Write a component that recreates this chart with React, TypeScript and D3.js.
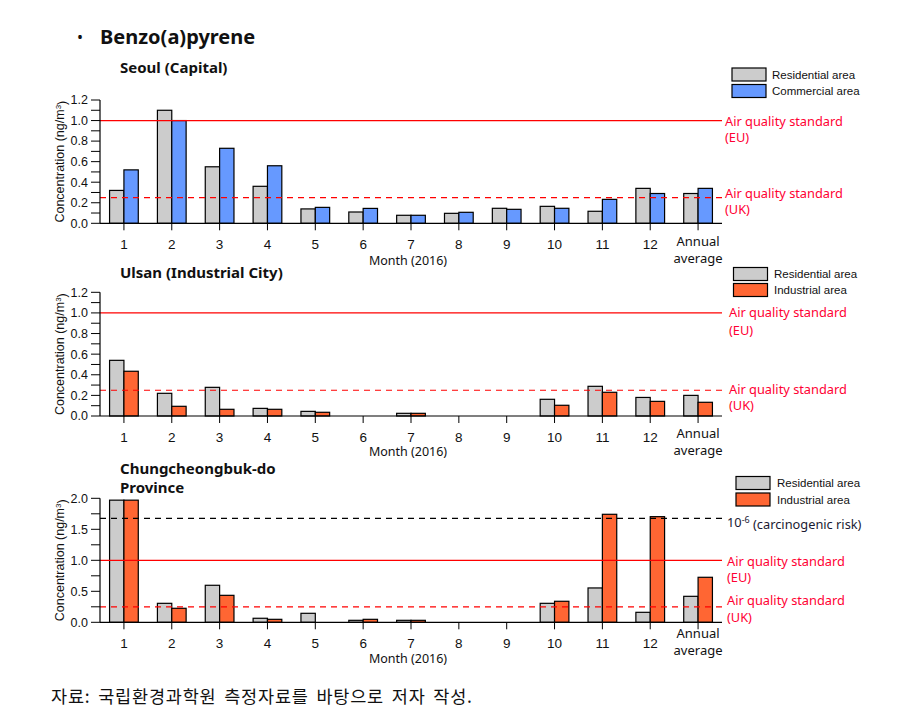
import React from "react";
import * as d3 from "d3";

// ---------- data ----------
const categories = ["1", "2", "3", "4", "5", "6", "7", "8", "9", "10", "11", "12", "Annual average"];

const seoulResidential = [0.32, 1.1, 0.55, 0.36, 0.14, 0.11, 0.078, 0.097, 0.146, 0.165, 0.117, 0.34, 0.29];
const seoulCommercial = [0.52, 1.0, 0.73, 0.56, 0.155, 0.145, 0.078, 0.107, 0.136, 0.146, 0.233, 0.29, 0.34];

const ulsanResidential = [0.54, 0.22, 0.278, 0.074, 0.045, 0, 0.026, 0, 0, 0.162, 0.288, 0.18, 0.2];
const ulsanIndustrial = [0.434, 0.094, 0.065, 0.065, 0.036, 0, 0.026, 0, 0, 0.104, 0.23, 0.142, 0.133];

const chungResidential = [1.97, 0.306, 0.597, 0.065, 0.145, 0.032, 0.032, 0, 0, 0.306, 0.554, 0.161, 0.419];
const chungIndustrial = [1.97, 0.226, 0.435, 0.048, 0, 0.048, 0.032, 0, 0, 0.339, 1.742, 1.704, 0.726];

const ticks12 = [0, 0.1, 0.2, 0.3, 0.4, 0.5, 0.6, 0.7, 0.8, 0.9, 1.0, 1.1, 1.2];
const ticks20 = [0, 0.25, 0.5, 0.75, 1.0, 1.25, 1.5, 1.75, 2.0];

const euStandard = 1.0;
const ukStandard = 0.25;
const carcinogenicRisk = 1.677;

const GREY = "#cccccc";
const BLUE = "#6699ff";
const ORANGE = "#ff6633";
const RED = "#ff0000";
const RED_TEXT = "#ff0033";

const tickFont = "'Liberation Sans', Arial, sans-serif";
const koFont = "'Noto Sans', 'Open Sans', sans-serif";

type PanelProps = {
  title: string[];
  titleY: number[];
  top: number;
  zero: number;
  max: number;
  ticks: number[];
  labelEvery: number;
  fmt: (v: number) => string;
  a: number[];
  b: number[];
  colorB: string;
  legendA: string;
  legendB: string;
  legend: { x: number; y1: number; y2: number; tx: number };
  tickLabelY: number;
  annualY: number;
  monthY: number;
  ukDashColor: string;
  annotations: { text: string; x: number; y: number; color: string; sup?: boolean }[];
  risk?: number;
};

const X0 = 100;
const X1 = 722;

function Panel(p: PanelProps) {
  const x = d3.scaleBand<string>().domain(categories).range([X0, X1]).padding(0);
  const y = d3.scaleLinear().domain([0, p.max]).range([p.zero, p.top]);
  const bw = x.bandwidth() * 0.3;
  const center = (c: string) => (x(c) as number) + x.bandwidth() / 2;

  return (
    <g>
      {p.title.map((t, i) => (
        <text key={i} x={120} y={p.titleY[i]} dy="0.35em" fontFamily={koFont} fontWeight="bold" fontSize={15} fill="#111">
          {t}
        </text>
      ))}
      {/* bars */}
      {categories.map((c, i) => (
        <g key={c}>
          {p.a[i] > 0 && (
            <rect x={center(c) - bw} y={y(p.a[i])} width={bw} height={p.zero - y(p.a[i])} fill={GREY} stroke="#000" strokeWidth={1.2} />
          )}
          {p.b[i] > 0 && (
            <rect x={center(c)} y={y(p.b[i])} width={bw} height={p.zero - y(p.b[i])} fill={p.colorB} stroke="#000" strokeWidth={1.2} />
          )}
        </g>
      ))}
      {/* reference lines */}
      <line x1={X0} x2={X1} y1={y(euStandard)} y2={y(euStandard)} stroke={RED} strokeWidth={1.2} />
      <line x1={X0} x2={X1} y1={y(ukStandard)} y2={y(ukStandard)} stroke={p.ukDashColor} strokeWidth={1.2} strokeDasharray="6,5" />
      {p.risk !== undefined && (
        <line x1={X0} x2={X1} y1={y(p.risk)} y2={y(p.risk)} stroke="#000" strokeWidth={1.2} strokeDasharray="6,5" />
      )}
      {/* y axis */}
      <line x1={X0} x2={X0} y1={p.top} y2={p.zero} stroke="#000" strokeWidth={1.2} />
      {p.ticks.map((t, i) => (
        <g key={i}>
          <line x1={X0 - 9} x2={X0} y1={y(t)} y2={y(t)} stroke="#000" strokeWidth={1} />
          {i % p.labelEvery === 0 && (
            <text x={X0 - 12} y={y(t)} dy="0.35em" textAnchor="end" fontFamily={tickFont} fontSize={12.5} fill="#111">
              {p.fmt(t)}
            </text>
          )}
        </g>
      ))}
      <text
        transform={`translate(${60},${(p.top + p.zero) / 2}) rotate(-90)`}
        textAnchor="middle"
        dy="0.35em"
        fontFamily={tickFont}
        fontSize={12.5}
        fill="#111"
      >
        Concentration (ng/m<tspan dy="-0.4em" fontSize={8}>3</tspan>
        <tspan dy="0.4em">)</tspan>
      </text>
      {/* x axis */}
      <line x1={X0} x2={X1} y1={p.zero} y2={p.zero} stroke="#000" strokeWidth={1.2} />
      {categories.map((c) => (
        <line key={c} x1={center(c)} x2={center(c)} y1={p.zero} y2={p.zero + 7} stroke="#000" strokeWidth={1} />
      ))}
      {categories.slice(0, 12).map((c) => (
        <text key={c} x={center(c)} y={p.tickLabelY} dy="0.35em" textAnchor="middle" fontFamily={tickFont} fontSize={13.5} fill="#111">
          {c}
        </text>
      ))}
      <text x={center(categories[12])} y={p.annualY} dy="0.35em" textAnchor="middle" fontFamily={koFont} fontSize={13} fill="#111">
        Annual
      </text>
      <text x={center(categories[12])} y={p.annualY + 17} dy="0.35em" textAnchor="middle" fontFamily={koFont} fontSize={13} fill="#111">
        average
      </text>
      <text x={408} y={p.monthY} dy="0.35em" textAnchor="middle" fontFamily={koFont} fontSize={12.5} fill="#111">
        Month (2016)
      </text>
      {/* legend */}
      <rect x={p.legend.x} y={p.legend.y1} width={34} height={13} fill={GREY} stroke="#000" strokeWidth={1.2} />
      <rect x={p.legend.x} y={p.legend.y2} width={34} height={13} fill={p.colorB} stroke="#000" strokeWidth={1.2} />
      <text x={p.legend.tx} y={p.legend.y1 + 6.5} dy="0.35em" fontFamily={tickFont} fontSize={11.5} fill="#111">
        {p.legendA}
      </text>
      <text x={p.legend.tx} y={p.legend.y2 + 6.5} dy="0.35em" fontFamily={tickFont} fontSize={11.5} fill="#111">
        {p.legendB}
      </text>
      {/* annotations */}
      {p.annotations.map((a, i) => (
        <text key={i} x={a.x} y={a.y} dy="0.35em" fontFamily={koFont} fontSize={12.8} fill={a.color}>
          {a.sup ? (
            <>
              10<tspan dy="-0.45em" fontSize={9}>-6</tspan>
              <tspan dy="0.45em"> (carcinogenic risk)</tspan>
            </>
          ) : (
            a.text
          )}
        </text>
      ))}
    </g>
  );
}

export default function App() {
  const fmt1 = (v: number) => v.toFixed(1);
  return (
    <svg width={920} height={720} style={{ position: "absolute", left: 0, top: 0, background: "#fff" }}>
      <rect x={0} y={0} width={920} height={720} fill="#fff" />
      <text x={80} y={37} dy="0.35em" textAnchor="middle" fontFamily={koFont} fontSize={16} fill="#111">
        •
      </text>
      <text x={100} y={37} dy="0.35em" fontFamily={koFont} fontWeight="bold" fontSize={20} fill="#111">
        Benzo(a)pyrene
      </text>

      <Panel
        title={["Seoul (Capital)"]}
        titleY={[68]}
        top={100}
        zero={223.3}
        max={1.2}
        ticks={ticks12}
        labelEvery={2}
        fmt={fmt1}
        a={seoulResidential}
        b={seoulCommercial}
        colorB={BLUE}
        legendA="Residential area"
        legendB="Commercial area"
        legend={{ x: 732, y1: 68, y2: 84.5, tx: 772 }}
        tickLabelY={244.5}
        annualY={241}
        monthY={261}
        ukDashColor={RED}
        annotations={[
          { text: "Air quality standard", x: 725, y: 121.5, color: RED_TEXT },
          { text: "(EU)", x: 725, y: 137.5, color: RED_TEXT },
          { text: "Air quality standard", x: 725, y: 193.5, color: RED_TEXT },
          { text: "(UK)", x: 725, y: 210, color: RED_TEXT },
        ]}
      />

      <Panel
        title={["Ulsan (Industrial City)"]}
        titleY={[273]}
        top={292.3}
        zero={416}
        max={1.2}
        ticks={ticks12}
        labelEvery={2}
        fmt={fmt1}
        a={ulsanResidential}
        b={ulsanIndustrial}
        colorB={ORANGE}
        legendA="Residential area"
        legendB="Industrial area"
        legend={{ x: 733.5, y1: 267.5, y2: 283.5, tx: 774 }}
        tickLabelY={437}
        annualY={433.5}
        monthY={452}
        ukDashColor={RED}
        annotations={[
          { text: "Air quality standard", x: 729, y: 313, color: RED_TEXT },
          { text: "(EU)", x: 729, y: 330.5, color: RED_TEXT },
          { text: "Air quality standard", x: 729, y: 389.5, color: RED_TEXT },
          { text: "(UK)", x: 729, y: 406, color: RED_TEXT },
        ]}
      />

      <Panel
        title={["Chungcheongbuk-do", "Province"]}
        titleY={[468.5, 487.5]}
        top={498.3}
        zero={622.3}
        max={2.0}
        ticks={ticks20}
        labelEvery={2}
        fmt={fmt1}
        a={chungResidential}
        b={chungIndustrial}
        colorB={ORANGE}
        legendA="Residential area"
        legendB="Industrial area"
        legend={{ x: 736, y1: 476.5, y2: 493, tx: 777 }}
        tickLabelY={643.5}
        annualY={633}
        monthY={659}
        ukDashColor={RED}
        risk={carcinogenicRisk}
        annotations={[
          { text: "10-6 (carcinogenic risk)", x: 727, y: 522.5, color: "#1a1a33", sup: true },
          { text: "Air quality standard", x: 727, y: 561.5, color: RED_TEXT },
          { text: "(EU)", x: 727, y: 577.5, color: RED_TEXT },
          { text: "Air quality standard", x: 727, y: 600.5, color: RED_TEXT },
          { text: "(UK)", x: 727, y: 617.5, color: RED_TEXT },
        ]}
      />

      <text
        x={51}
        y={696.5}
        dy="0.35em"
        fontFamily="'Noto Sans CJK KR', sans-serif"
        fontSize={17.5}
        letterSpacing={0.8}
        wordSpacing={3}
        fill="#111"
      >
        자료: 국립환경과학원 측정자료를 바탕으로 저자 작성.
      </text>
    </svg>
  );
}
